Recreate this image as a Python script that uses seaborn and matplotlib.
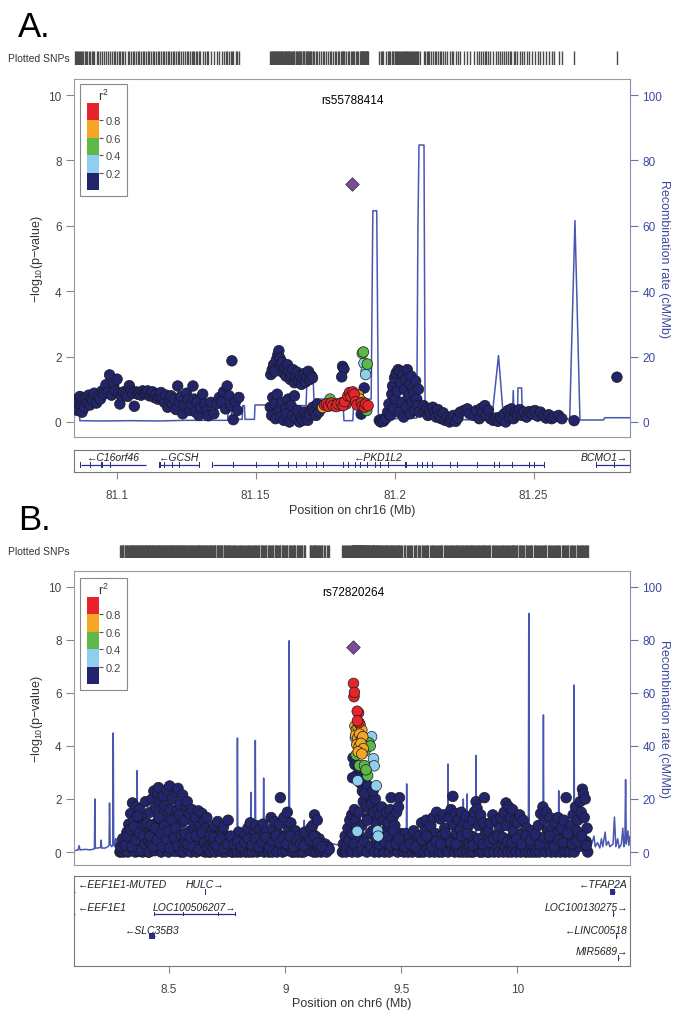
import numpy as np
import pandas as pd
import matplotlib
matplotlib.use("Agg")
import matplotlib.pyplot as plt
import seaborn as sns
from matplotlib.colors import ListedColormap, BoundaryNorm
from matplotlib.cm import ScalarMappable
from matplotlib.patches import Rectangle

sns.set_style("white")
plt.rcParams['font.family'] = ['Liberation Sans', 'DejaVu Sans']
plt.rcParams['mathtext.fontset'] = 'custom'
plt.rcParams['mathtext.rm'] = 'Liberation Sans'
plt.rcParams['mathtext.default'] = 'regular'

# ---------------------------------------------------------------- data: panel A (chr16)
a_navy = [
    (81.0850,0.55),(81.0853,0.42),(81.0857,0.70),(81.0860,0.35),(81.0864,0.62),(81.0868,0.78),(81.0872,0.50),
    (81.0876,0.30),(81.0880,0.68),(81.0885,0.45),(81.0890,0.75),(81.0895,0.60),(81.0900,0.82),(81.0905,0.52),
    (81.0910,0.72),(81.0915,0.65),(81.0920,0.88),(81.0928,0.58),(81.0935,0.78),(81.0942,0.70),
    (81.0948,0.95),(81.0955,0.85),(81.0962,1.14),(81.0968,0.90),(81.0975,1.44),(81.0982,0.82),(81.0990,1.14),
    (81.0996,0.95),(81.1002,1.31),(81.1008,0.88),(81.1012,0.55),(81.1018,0.80),(81.1025,0.92),(81.1032,0.85),
    (81.1040,0.78),(81.1046,1.11),(81.1052,0.95),(81.1058,0.88),(81.1064,0.48),(81.1070,0.92),(81.1076,0.85),
    (81.1082,0.90),(81.1088,0.82),(81.1094,0.95),(81.1100,0.87),(81.1106,0.90),(81.1112,0.95),(81.1118,0.80),
    (81.1124,0.88),(81.1130,0.92),(81.1136,0.75),(81.1142,0.85),(81.1148,0.70),(81.1154,0.78),(81.1160,0.90),
    (81.1166,0.72),(81.1172,0.60),(81.1178,0.82),(81.1184,0.45),(81.1190,0.65),(81.1196,0.80),(81.1202,0.55),
    (81.1208,0.70),(81.1214,0.38),(81.1220,1.10),(81.1226,0.62),
    (81.1232,0.78),(81.1238,0.25),(81.1245,0.50),(81.1252,0.88),(81.1258,0.68),(81.1265,0.35),
    (81.1270,0.55),(81.1275,1.10),(81.1280,0.70),(81.1285,0.30),(81.1290,0.62),(81.1296,0.20),(81.1302,0.45),
    (81.1310,0.85),(81.1318,0.55),(81.1325,0.35),(81.1330,0.19),(81.1340,0.60),(81.1350,0.25),
    (81.1360,0.55),(81.1370,0.75),(81.1378,0.62),(81.1385,0.92),(81.1392,0.40),(81.1398,1.10),(81.1405,0.80),
    (81.1412,0.50),(81.1415,1.87),(81.1420,0.07),(81.1428,0.62),(81.1435,0.35),(81.1440,0.75),
    (81.1555,1.45),(81.1560,1.60),(81.1565,1.75),(81.1570,1.55),(81.1575,1.90),(81.1580,2.05),(81.1584,2.18),
    (81.1588,1.95),(81.1592,1.70),(81.1596,1.82),(81.1600,1.50),(81.1605,1.65),(81.1610,1.40),(81.1615,1.75),
    (81.1620,1.55),(81.1625,1.30),(81.1630,1.45),(81.1635,1.60),(81.1640,1.20),(81.1645,1.38),(81.1650,1.52),
    (81.1655,1.25),(81.1660,1.42),(81.1665,1.15),(81.1670,1.35),(81.1675,1.48),(81.1680,1.22),(81.1685,1.38),
    (81.1690,1.55),(81.1695,1.30),(81.1700,1.42),(81.1705,1.35),
    (81.1553,0.45),(81.1558,0.20),(81.1562,0.75),(81.1568,0.55),(81.1572,0.10),(81.1578,0.85),(81.1585,0.35),
    (81.1590,0.15),(81.1595,0.60),(81.1602,0.05),(81.1608,0.40),(81.1612,0.25),(81.1618,0.70),(81.1622,0.00),
    (81.1628,0.50),(81.1634,0.20),(81.1640,0.80),(81.1646,0.10),(81.1652,0.35),(81.1658,0.00),(81.1664,0.15),
    (81.1670,0.05),(81.1676,0.30),(81.1682,0.18),(81.1688,0.05),(81.1694,0.22),(81.1700,0.38),(81.1706,0.45),
    (81.1712,0.30),(81.1718,0.20),
    (81.1813,1.70),(81.1818,1.62),(81.1810,1.38),(81.1891,1.04),(81.1880,0.24),(81.1735,0.40),(81.1728,0.30),
    (81.1722,0.55),
    (81.1945,0.05),(81.1950,0.00),(81.1955,0.08),(81.1960,0.02),(81.1968,0.10),(81.1975,0.30),(81.1980,0.55),
    (81.1985,0.20),(81.1990,0.85),(81.1993,1.10),(81.1996,0.40),(81.2000,1.35),(81.2003,0.70),(81.2006,1.50),
    (81.2010,0.95),(81.2013,1.60),(81.2016,0.30),(81.2020,1.55),(81.2023,1.20),(81.2026,0.60),(81.2030,1.45),
    (81.2033,0.15),(81.2036,1.00),(81.2040,1.30),(81.2043,0.45),(81.2046,1.60),(81.2050,0.80),(81.2053,1.15),
    (81.2056,0.25),(81.2060,1.40),(81.2063,0.60),(81.2066,1.05),(81.2070,0.90),(81.2073,0.35),(81.2076,1.25),
    (81.2080,0.70),(81.2083,0.50),(81.2086,1.00),(81.2090,0.30),
    (81.2105,0.50),(81.2110,0.30),(81.2115,0.42),(81.2120,0.20),(81.2125,0.35),(81.2130,0.25),(81.2138,0.45),
    (81.2145,0.30),(81.2150,0.15),(81.2156,0.38),(81.2162,0.20),(81.2168,0.10),(81.2175,0.28),(81.2182,0.05),
    (81.2190,0.15),(81.2198,0.00),(81.2205,0.10),(81.2212,0.20),(81.2220,0.02),(81.2228,0.12),(81.2236,0.30),
    (81.2250,0.35),(81.2262,0.40),(81.2270,0.25),(81.2285,0.20),(81.2295,0.35),(81.2305,0.10),(81.2312,0.42),
    (81.2318,0.30),(81.2325,0.50),(81.2330,0.20),(81.2338,0.35),(81.2345,0.10),(81.2355,0.05),(81.2365,0.12),
    (81.2372,0.02),(81.2380,0.15),(81.2388,0.08),(81.2395,0.25),(81.2400,0.00),(81.2408,0.35),(81.2414,0.15),
    (81.2420,0.40),(81.2428,0.10),(81.2435,0.30),(81.2442,0.22),(81.2450,0.38),(81.2458,0.20),(81.2466,0.30),
    (81.2475,0.15),(81.2485,0.32),(81.2495,0.25),(81.2505,0.35),(81.2515,0.18),(81.2525,0.30),(81.2535,0.20),
    (81.2545,0.12),(81.2555,0.22),(81.2565,0.10),(81.2575,0.15),(81.2590,0.20),(81.2602,0.10),(81.2646,0.04),
    (81.2800,1.37),
]
a_ld = [  # (position, -log10 p, r2)
    (81.1742,0.44,0.70),(81.1748,0.52,0.90),(81.1755,0.55,0.90),(81.1762,0.48,0.90),(81.1768,0.70,0.50),
    (81.1772,0.58,0.90),(81.1778,0.50,0.90),(81.1785,0.52,0.85),(81.1790,0.47,0.90),(81.1796,0.55,0.90),
    (81.1802,0.50,0.85),(81.1808,0.58,0.90),(81.1815,0.50,0.90),(81.1820,0.62,0.90),(81.1826,0.55,0.85),
    (81.1832,0.80,0.90),(81.1838,0.90,0.90),(81.1843,0.78,0.90),(81.1850,0.92,0.90),(81.1855,0.85,0.90),
    (81.1860,0.62,0.90),(81.1865,0.52,0.90),(81.1870,0.82,0.70),(81.1875,0.70,0.70),(81.1880,0.58,0.90),
    (81.1884,0.48,0.90),(81.1888,0.60,0.70),(81.1892,0.45,0.90),(81.1896,0.55,0.90),(81.1900,0.35,0.50),
    (81.1905,0.50,0.90),
    (81.1884,2.10,0.50),(81.1888,2.14,0.50),(81.1902,1.77,0.50),(81.1890,1.80,0.30),(81.1898,1.57,0.30),
    (81.1896,1.45,0.30),
]
a_lead_pos, a_lead_logp, a_lead_name = 81.1847, 7.28, "rs55788414"
a_recomb = [
    (81.0847,4.5),(81.0866,4.5),(81.0868,0.4),(81.0950,0.3),(81.1050,0.4),(81.1150,0.3),(81.1250,0.5),
    (81.1400,0.5),(81.1402,5.0),(81.1412,5.0),(81.1414,0.8),(81.1452,0.8),(81.1454,5.0),(81.1460,5.0),
    (81.1462,0.8),(81.1496,0.8),(81.1498,5.2),(81.1544,5.2),(81.1546,4.0),(81.1634,4.0),(81.1636,5.0),
    (81.1682,5.0),(81.1686,16.2),(81.1706,16.2),(81.1710,7.0),(81.1814,7.0),(81.1818,0.4),(81.1850,0.4),
    (81.1854,7.0),(81.1916,7.0),(81.1922,64.6),(81.1936,64.6),(81.1942,0.9),(81.1975,0.9),(81.1980,11.6),
    (81.1986,11.6),(81.1992,1.0),(81.2080,1.2),(81.2084,57.5),(81.2088,84.7),(81.2106,84.7),(81.2110,1.5),
    (81.2200,0.8),(81.2300,0.6),(81.2350,0.9),(81.2374,20.3),(81.2392,1.0),(81.2424,1.0),(81.2427,9.6),
    (81.2430,1.0),(81.2442,1.0),(81.2444,10.4),(81.2457,10.4),(81.2460,0.9),(81.2630,0.9),(81.2649,61.6),
    (81.2667,0.6),(81.2752,0.6),(81.2756,1.3),(81.2847,1.3),
]
a_gene_name = ['C16orf46', 'GCSH', 'PKD1L2', 'BCMO1']
a_gene_start = [81.0871, 81.1156, 81.1346, 81.2725]
a_gene_end = [81.1106, 81.1297, 81.2538, 81.2900]
a_gene_strand = ['-', '-', '-', '+']
a_gene_row = [0, 0, 0, 0]
a_gene_label = ['center', 'center', 'center', 'right']
a_exons = {
    'C16orf46': [81.0871, 81.0905, 81.0948, 81.0955, 81.0977, 81.0998, 81.1106],
    'GCSH': [81.1156, 81.1174, 81.1200, 81.1228, 81.1297],
    'PKD1L2': [81.1346, 81.1422, 81.1473, 81.1502, 81.1552, 81.1581, 81.1617, 81.1646, 81.1682, 81.1718,
               81.1732, 81.1746, 81.1811, 81.1818, 81.1833, 81.1861, 81.1876, 81.1904, 81.1919, 81.1933,
               81.1948, 81.1962, 81.1977, 81.1998, 81.2041, 81.2084, 81.2099, 81.2106, 81.2120, 81.2135,
               81.2149, 81.2178, 81.2200, 81.2228, 81.2250, 81.2286, 81.2300, 81.2322, 81.2358, 81.2379,
               81.2408, 81.2423, 81.2487, 81.2502, 81.2538],
    'BCMO1': [81.2725, 81.2790],
}
a_big_exons = [81.0948, 81.1157, 81.2041]

# ---------------------------------------------------------------- data: panel B (chr6)
b_navy = [
    (8.288,0.0),(8.293,0.02),(8.298,0.1),(8.303,0.0),(8.308,0.35),(8.313,0.05),(8.318,0.75),(8.322,0.0),
    (8.326,1.05),(8.330,0.3),(8.334,1.45),(8.338,0.55),(8.342,1.85),(8.346,0.1),(8.350,1.2),(8.354,0.0),
    (8.358,1.7),(8.362,0.4),(8.366,0.9),(8.370,0.02),(8.374,1.6),(8.378,0.25),(8.382,1.3),(8.386,0.0),
    (8.390,1.0),(8.394,0.5),(8.398,1.9),(8.402,0.15),(8.406,0.7),(8.410,0.0),
    (8.291,0.2),(8.300,0.5),(8.310,0.25),(8.320,0.6),(8.332,0.85),(8.340,0.2),(8.348,0.95),(8.356,0.45),
    (8.364,1.35),(8.372,0.7),(8.380,0.05),(8.388,0.6),(8.396,0.3),(8.404,1.1),(8.412,0.4),
    (8.414,0.0),(8.418,1.5),(8.422,0.3),(8.426,2.0),(8.430,0.8),(8.434,2.3),(8.438,0.05),(8.442,1.7),
    (8.446,1.1),(8.450,2.2),(8.454,2.43),(8.458,0.4),(8.462,1.9),(8.466,0.0),(8.470,1.4),(8.474,2.1),
    (8.478,0.6),(8.482,1.75),(8.486,0.1),(8.490,2.35),(8.494,1.2),(8.498,0.0),(8.502,2.49),(8.506,1.6),
    (8.510,0.35),(8.514,2.0),(8.518,0.9),(8.522,1.3),(8.526,0.02),(8.530,2.25),(8.534,1.55),(8.538,2.4),
    (8.542,0.5),(8.546,1.8),(8.550,0.0),(8.554,1.1),(8.558,2.15),
    (8.416,0.6),(8.424,1.0),(8.432,0.2),(8.440,0.9),(8.448,0.45),(8.456,1.3),(8.464,0.7),(8.472,0.2),
    (8.480,1.0),(8.488,0.5),(8.496,0.8),(8.504,0.15),(8.512,1.2),(8.520,0.55),(8.528,0.9),(8.536,0.25),
    (8.544,1.4),(8.552,0.65),(8.560,0.3),
    (8.562,0.0),(8.566,1.2),(8.570,0.4),(8.574,1.7),(8.578,1.9),(8.582,0.1),(8.586,1.45),(8.590,0.8),
    (8.594,0.0),(8.598,1.6),(8.602,0.5),(8.606,1.1),(8.610,0.2),(8.614,1.3),(8.618,0.0),(8.622,0.85),
    (8.626,1.55),(8.630,0.3),(8.634,1.0),(8.638,0.05),(8.642,1.45),(8.646,0.6),(8.650,1.2),(8.654,0.0),
    (8.658,0.9),(8.662,1.3),(8.666,0.4),(8.670,0.0),
    (8.568,0.7),(8.580,0.3),(8.592,0.55),(8.604,0.2),(8.616,0.6),(8.628,0.1),(8.640,0.75),(8.652,0.35),
    (8.664,0.15),
    (8.674,0.3),(8.679,0.0),(8.684,0.8),(8.689,0.15),(8.694,1.0),(8.699,0.0),(8.704,0.5),(8.709,1.15),
    (8.714,0.05),(8.719,0.7),(8.724,0.2),(8.729,0.0),(8.734,0.95),(8.739,0.4),(8.744,0.0),(8.749,0.6),
    (8.754,1.2),(8.759,0.1),(8.764,0.35),(8.769,0.0),
    (8.682,0.45),(8.697,0.3),(8.712,0.6),(8.727,0.35),(8.742,0.2),(8.757,0.55),
    (8.774,0.2),(8.779,0.0),(8.784,0.55),(8.789,0.1),(8.794,0.0),(8.799,0.75),(8.804,0.3),(8.809,0.0),
    (8.814,0.45),(8.819,0.05),(8.824,0.6),(8.829,0.0),
    (8.834,0.3),(8.839,0.9),(8.844,0.0),(8.849,1.1),(8.854,0.5),(8.859,0.0),(8.864,0.7),(8.869,0.2),
    (8.874,1.0),(8.879,0.0),(8.884,0.4),(8.889,0.85),(8.894,0.05),(8.899,0.6),(8.904,1.05),(8.909,0.0),
    (8.914,0.3),(8.919,0.75),(8.924,0.1),(8.929,0.0),
    (8.934,0.5),(8.939,1.3),(8.944,0.0),(8.949,0.9),(8.954,1.15),(8.959,0.2),(8.964,0.0),(8.969,0.7),
    (8.974,1.05),(8.979,2.05),(8.984,0.3),(8.989,0.0),(8.994,1.3),(8.999,0.6),(9.004,0.05),(9.009,1.5),
    (9.014,0.9),(9.019,0.2),(9.024,1.1),(9.029,0.0),
    (9.034,0.4),(9.039,0.0),(9.044,0.8),(9.049,0.2),(9.054,0.0),(9.059,0.6),(9.064,0.1),(9.069,0.0),
    (9.074,0.35),(9.079,0.0),(9.084,0.75),(9.106,0.05),(9.110,0.9),(9.114,0.3),(9.118,1.0),(9.122,0.0),
    (9.126,1.4),(9.130,0.6),(9.134,0.0),(9.138,1.2),(9.142,0.2),(9.146,0.5),(9.150,0.1),
    (9.154,0.0),(9.160,0.25),(9.166,0.05),(9.172,0.3),(9.178,0.0),(9.184,0.2),(9.190,0.1),
    (8.676,0.6),(8.692,0.55),(8.706,0.25),(8.722,0.5),(8.736,0.15),(8.752,0.3),(8.766,0.6),(8.781,0.3),
    (8.796,0.4),(8.811,0.2),(8.826,0.35),(8.841,0.5),(8.856,0.25),(8.871,0.5),(8.886,0.2),(8.901,0.35),
    (8.916,0.55),(8.931,0.2),(8.946,0.4),(8.961,0.6),(8.976,0.35),(8.991,0.5),(9.006,0.3),(9.021,0.6),
    (9.036,0.2),(9.051,0.45),(9.066,0.3),(9.081,0.25),(9.108,0.45),(9.124,0.6),(9.140,0.35),(9.157,0.2),
    (9.246,0.0),(9.250,0.3),(9.254,0.05),(9.258,0.6),(9.262,0.0),(9.266,0.2),(9.270,0.9),(9.274,0.45),
    (9.278,1.2),(9.282,0.1),(9.286,1.4),(9.289,0.7),
    (9.288,0.0),(9.292,3.55),(9.296,0.3),(9.300,3.3),(9.304,1.2),(9.308,2.9),(9.312,0.0),(9.316,3.2),
    (9.320,0.6),(9.324,2.6),(9.328,0.05),(9.332,2.3),(9.336,1.9),(9.340,0.4),(9.344,2.75),(9.348,1.7),
    (9.352,0.0),(9.356,2.5),(9.360,1.3),(9.364,2.1),(9.368,0.2),(9.372,1.8),(9.376,0.8),(9.380,1.5),
    (9.384,0.0),(9.388,2.0),(9.392,1.1),(9.396,0.3),(9.400,1.6),
    (9.290,2.8),(9.298,1.6),(9.306,0.9),(9.318,1.5),(9.330,1.0),(9.342,2.2),(9.354,1.2),(9.366,0.7),
    (9.378,2.3),(9.390,0.5),
    (9.404,0.0),(9.408,1.4),(9.412,0.5),(9.416,1.7),(9.420,0.2),(9.424,1.2),(9.428,0.0),(9.432,0.8),
    (9.436,1.5),(9.440,0.3),(9.444,1.1),(9.448,0.0),(9.452,1.6),(9.456,2.05),(9.460,0.6),(9.464,1.3),
    (9.468,0.1),(9.472,1.0),(9.476,0.4),(9.480,1.5),(9.484,0.0),(9.488,1.7),(9.492,2.05),(9.496,0.7),
    (9.500,0.2),
    (9.505,0.4),(9.511,0.0),(9.517,0.7),(9.523,0.1),(9.529,0.0),(9.535,0.55),(9.541,0.25),(9.547,0.0),
    (9.553,0.8),(9.559,0.1),(9.565,0.45),(9.571,0.0),(9.577,0.6),
    (9.582,0.0),(9.587,1.1),(9.592,0.3),(9.597,0.0),(9.602,0.8),(9.607,1.2),(9.612,0.1),(9.617,0.5),
    (9.622,0.0),(9.627,1.0),(9.632,0.35),(9.637,1.3),(9.642,0.0),(9.647,0.7),(9.652,1.5),(9.657,0.2),
    (9.662,0.0),(9.667,1.25),(9.672,0.6),(9.677,0.0),(9.682,1.4),(9.687,0.9),(9.692,0.15),(9.697,0.5),
    (9.702,0.0),(9.706,1.3),(9.710,0.5),(9.714,1.6),(9.718,0.2),(9.722,2.1),(9.726,1.0),(9.730,0.0),
    (9.734,1.45),(9.738,0.7),(9.742,0.1),(9.746,1.2),(9.750,0.0),(9.754,0.85),(9.758,1.5),(9.762,0.3),
    (9.766,0.0),(9.770,1.1),(9.774,0.6),(9.778,1.35),(9.782,0.0),(9.786,0.4),(9.790,1.0),(9.794,0.2),
    (9.798,0.0),
    (9.802,0.6),(9.806,1.2),(9.810,0.0),(9.814,1.5),(9.818,0.3),(9.822,1.9),(9.826,1.65),(9.830,0.1),
    (9.834,1.0),(9.838,0.0),(9.842,1.4),(9.846,0.5),(9.850,0.0),(9.854,1.1),(9.858,2.05),(9.862,0.7),
    (9.866,0.2),(9.870,0.0),
    (9.874,0.8),(9.879,0.0),(9.884,1.1),(9.889,0.4),(9.894,1.4),(9.899,0.0),(9.904,0.6),(9.909,1.2),
    (9.914,0.2),(9.919,0.0),(9.924,0.9),(9.929,1.3),(9.934,0.3),(9.939,0.0),
    (9.943,1.5),(9.947,0.2),(9.951,1.85),(9.955,1.0),(9.959,0.0),(9.963,1.7),(9.967,0.5),(9.971,1.3),
    (9.975,0.0),(9.979,1.6),(9.983,0.8),(9.987,0.1),(9.991,1.2),
    (9.995,0.0),(10.000,1.1),(10.005,0.4),(10.010,1.4),(10.015,0.0),(10.020,0.7),(10.025,1.2),(10.030,0.2),
    (10.035,0.0),(10.040,0.9),(10.045,0.5),(10.050,0.0),(10.055,0.3),(10.060,0.8),(10.065,0.0),(10.070,0.45),
    (10.075,0.15),(10.080,0.0),
    (10.085,0.6),(10.090,1.0),(10.095,0.0),(10.100,1.45),(10.105,0.3),(10.110,1.7),(10.115,1.2),(10.120,0.0),
    (10.125,1.5),(10.130,0.8),(10.135,0.2),(10.140,1.3),(10.145,0.0),(10.150,0.9),
    (10.155,0.4),(10.160,1.1),(10.165,0.0),(10.170,0.7),(10.175,1.3),(10.180,0.2),(10.185,0.0),(10.190,0.9),
    (10.195,0.5),(10.200,1.2),(10.205,0.0),(10.210,2.05),(10.215,0.6),(10.220,0.3),
    (10.225,0.0),(10.230,1.0),(10.235,0.5),(10.240,1.4),(10.245,0.0),(10.250,1.7),(10.255,0.8),(10.260,1.2),
    (10.265,0.2),(10.270,1.9),(10.275,1.5),(10.280,2.37),(10.284,2.2),(10.288,1.3),(10.292,2.0),(10.296,0.4),
    (10.300,0.9),(10.303,0.0),
    (9.407,0.3),(9.418,0.7),(9.430,0.35),(9.442,0.6),(9.454,0.25),(9.466,0.8),(9.478,0.3),(9.490,0.5),
    (9.514,0.2),(9.538,0.3),(9.562,0.2),(9.590,0.45),(9.610,0.6),(9.630,0.2),(9.650,0.4),(9.670,0.3),
    (9.690,0.7),(9.712,0.35),(9.736,0.3),(9.760,0.6),(9.784,0.7),(9.808,0.25),(9.832,0.5),(9.852,0.3),
    (9.877,0.35),(9.897,0.5),(9.917,0.6),(9.937,0.55),(9.957,0.4),(9.977,0.35),(9.997,0.5),(10.017,0.3),
    (10.037,0.6),(10.057,0.45),(10.077,0.65),(10.097,0.3),(10.117,0.55),(10.137,0.6),(10.157,0.2),
    (10.177,0.45),(10.197,0.35),(10.217,0.7),(10.237,0.3),(10.257,0.4),(10.277,0.6),(10.297,0.25),
]
b_ld = [  # (position, -log10 p, r2)
    (9.294,6.36,0.90),(9.298,6.02,0.90),(9.296,5.86,0.85),(9.310,5.31,0.90),(9.316,5.25,0.85),
    (9.318,4.88,0.90),(9.311,4.95,0.90),
    (9.300,4.75,0.70),(9.306,4.62,0.70),(9.314,4.70,0.70),(9.322,4.80,0.70),(9.330,4.60,0.70),
    (9.303,4.40,0.70),(9.312,4.30,0.70),(9.320,4.45,0.70),(9.328,4.25,0.70),(9.334,4.35,0.70),
    (9.308,4.05,0.70),(9.318,3.98,0.70),(9.326,4.10,0.70),(9.336,3.90,0.70),(9.314,3.78,0.70),
    (9.330,3.70,0.70),
    (9.340,4.20,0.50),(9.345,4.02,0.50),(9.344,3.82,0.50),(9.305,3.66,0.50),(9.319,3.26,0.50),
    (9.341,3.26,0.50),(9.355,2.88,0.50),(9.360,4.12,0.50),(9.366,4.00,0.50),(9.348,3.10,0.50),
    (9.302,4.31,0.30),(9.372,4.35,0.30),(9.380,3.52,0.30),(9.383,3.25,0.30),(9.312,2.69,0.30),
    (9.392,2.50,0.30),(9.310,0.78,0.30),(9.398,0.80,0.30),(9.400,0.60,0.30),
]
b_lead_pos, b_lead_logp, b_lead_name = 9.292, 7.74, "rs72820264"
b_recomb = [
    (8.090,0.5),(8.108,0.8),(8.112,2.4),(8.116,0.8),(8.140,1.0),(8.160,0.8),(8.178,1.2),(8.180,20.0),
    (8.182,1.5),(8.195,1.5),(8.205,1.8),(8.207,4.5),(8.209,1.5),(8.225,1.5),(8.235,2.0),(8.241,2.5),
    (8.243,18.5),(8.246,3.0),(8.252,2.0),(8.257,2.5),(8.259,44.9),(8.261,3.0),(8.266,2.0),(8.269,5.0),
    (8.271,1.5),(8.276,5.0),(8.278,1.0),(8.300,1.0),(8.330,1.2),(8.360,1.5),(8.362,30.7),(8.364,1.5),
    (8.400,1.2),(8.450,1.0),(8.500,1.3),(8.550,1.0),(8.600,1.2),(8.650,1.0),(8.700,1.2),(8.750,1.0),
    (8.792,1.5),(8.794,43.0),(8.796,1.5),(8.850,1.5),(8.852,22.5),(8.854,1.5),(8.869,1.5),(8.871,42.1),
    (8.873,1.5),(8.905,1.5),(8.907,27.9),(8.909,1.5),(8.960,1.2),(9.015,1.5),(9.017,79.7),(9.019,1.5),
    (9.060,2.0),(9.080,2.5),(9.082,12.0),(9.084,3.0),(9.132,3.0),(9.134,9.0),(9.136,3.0),(9.175,3.5),
    (9.240,2.5),(9.300,2.0),(9.334,2.0),(9.336,17.5),(9.338,2.0),(9.400,1.5),(9.450,1.5),(9.521,1.5),
    (9.523,25.7),(9.525,1.5),(9.600,1.5),(9.699,1.5),(9.701,33.2),(9.703,1.5),(9.765,1.5),(9.767,20.0),
    (9.769,1.5),(9.781,1.5),(9.783,21.9),(9.785,1.5),(9.820,1.5),(9.822,36.4),(9.824,1.5),(9.900,1.5),
    (9.960,1.5),(10.047,1.5),(10.049,90.0),(10.051,1.5),(10.110,1.5),(10.112,51.7),(10.114,1.5),
    (10.176,1.5),(10.178,23.1),(10.180,1.5),(10.242,1.5),(10.244,63.0),(10.246,1.5),(10.300,2.0),
    (10.305,4.0),(10.310,1.5),(10.320,3.0),(10.330,6.0),(10.335,2.0),(10.345,3.5),(10.355,1.5),
    (10.362,5.0),(10.368,2.0),(10.378,7.5),(10.383,2.5),(10.392,4.0),(10.398,2.0),(10.412,3.0),
    (10.418,13.2),(10.424,2.0),(10.432,5.0),(10.438,1.5),(10.448,3.0),(10.454,9.0),(10.459,2.0),
    (10.463,4.0),(10.466,27.3),(10.469,3.0),(10.476,8.0),(10.480,2.5),(10.485,6.0),
]
b_gene_name = ['EEF1E1-MUTED', 'HULC', 'TFAP2A', 'EEF1E1', 'LOC100506207', 'LOC100130275',
               'SLC35B3', 'LINC00518', 'MIR5689']
b_gene_start = [8.0912, 8.6545, 10.397, 8.0912, 8.435, 10.4135, 8.414, 10.4255, 10.4345]
b_gene_end = [8.0935, 8.6560, 10.422, 8.0935, 8.785, 10.4150, 8.440, 10.4285, 10.4355]
b_gene_strand = ['-', '+', '-', '-', '+', '+', '-', '-', '+']
b_gene_row = [0, 0, 0, 1, 1, 1, 2, 2, 3]
b_gene_label = ['left', 'center', 'right', 'left', 'center', 'right', 'center', 'right', 'right']
b_exons = {'LOC100506207': [8.435, 8.560, 8.711, 8.784]}

ld_bins = [0.0, 0.2, 0.4, 0.6, 0.8, 1.0]
ld_colors = ['#22256B', '#8ECFF0', '#5DB847', '#F5A724', '#E6242A']
lead_color = '#7A4D9C'
rec_color = '#4957B0'
axis_blue = '#3F4A9E'
spine_grey = '#9A9A9A'

# ---------------------------------------------------------------- figure
W, H = 688, 1020
fig = plt.figure(figsize=(W / 100, H / 100), dpi=100)


def add_ax(x0, y0, x1, y1):
    return fig.add_axes([x0 / W, 1 - y1 / H, (x1 - x0) / W, (y1 - y0) / H])


def draw_panel(letter, letter_y, rug_box, main_box, gene_box, legend_top, xlim, ylim, xticks, xticklabels,
               xlabel, navy, ld, lead_pos, lead_logp, lead_name, recomb, genes, exons, big_exons,
               row_gene_y, row_label_y, exon_half, gene_xlabel_y, name_y):
    L, R = main_box[0], main_box[2]
    fig.text(18 / W, 1 - letter_y / H, letter, fontsize=25, va='baseline', ha='left', color='black')

    df = pd.DataFrame({'pos': [p for p, _ in navy] + [p for p, _, _ in ld],
                       'logp': [v for _, v in navy] + [v for _, v, _ in ld],
                       'r2': [0.1] * len(navy) + [r for _, _, r in ld]})
    df['bin'] = pd.cut(df['r2'], ld_bins, labels=False, include_lowest=True).astype(int)
    df = df.sort_values('r2', kind='stable')

    # rug of plotted SNPs
    rax = add_ax(*rug_box)
    sns.rugplot(x=list(df['pos']) + [lead_pos], ax=rax, height=1.0, color='#4a4a4a', lw=0.7,
                expand_margins=False)
    rax.set_xlim(xlim)
    rax.set_ylim(0, 1)
    rax.axis('off')
    fig.text(8 / W, 1 - ((rug_box[1] + rug_box[3]) / 2) / H, 'Plotted SNPs', fontsize=7.5,
             va='center', ha='left', color='#333333')

    # main axes
    ax = add_ax(*main_box)
    ax2 = ax.twinx()
    sns.lineplot(x=[p for p, _ in recomb], y=[r for _, r in recomb], ax=ax2, color=rec_color,
                 lw=1.1, sort=False, estimator=None)
    ax2.set_ylim(ylim[0] * 10, ylim[1] * 10)
    ax2.set_yticks([0, 20, 40, 60, 80, 100])
    ax2.tick_params(axis='y', direction='out', length=6, width=0.8, color='#6a72b0',
                    labelcolor=axis_blue, labelsize=8.5, pad=3)
    ax2.set_ylabel('Recombination rate (cM/Mb)', color=axis_blue, fontsize=9, rotation=270)
    ax2.yaxis.set_label_coords(1.072, 0.5)
    for s in ['top', 'bottom', 'left']:
        ax2.spines[s].set_visible(False)
    ax2.spines['right'].set_color('#8a8fb8')
    ax2.spines['right'].set_linewidth(0.8)

    ax.set_zorder(ax2.get_zorder() + 1)
    ax.patch.set_visible(False)
    sns.scatterplot(data=df, x='pos', y='logp', hue='bin', palette=dict(enumerate(ld_colors)),
                    hue_order=[0, 1, 2, 3, 4], s=58, edgecolor='#1a1a1a', linewidth=0.5,
                    legend=False, ax=ax, zorder=3)
    sns.scatterplot(x=[lead_pos], y=[lead_logp], marker='D', s=48, color=lead_color,
                    edgecolor='#333333', linewidth=0.5, ax=ax, zorder=4)
    ax.text(lead_pos, name_y, lead_name, ha='center', va='center', fontsize=8.5, color='black')
    ax.set_xlim(xlim)
    ax.set_ylim(ylim)
    ax2.set_xlim(xlim)
    ax.set_xticks([])
    ax.set_xlabel('')
    ax.set_yticks([0, 2, 4, 6, 8, 10])
    ax.tick_params(axis='y', direction='out', length=6, width=0.8, color='#888888',
                   labelcolor='#444444', labelsize=8.5, pad=3, left=True)
    ax.set_ylabel('\u2212log$_{10}$(p\u2212value)', fontsize=9, color='#333333')
    ax.yaxis.set_label_coords(-0.052, 0.5)
    for s in ['top', 'bottom', 'left']:
        ax.spines[s].set_color(spine_grey)
        ax.spines[s].set_linewidth(0.8)
        ax.spines[s].set_visible(True)
    ax.spines['right'].set_visible(False)

    # r2 legend
    bx0, by0 = 80, legend_top
    fig.patches.append(Rectangle((bx0 / W, 1 - (by0 + 112) / H), 47 / W, 112 / H, transform=fig.transFigure,
                                 fill=False, edgecolor='#888888', lw=0.8, zorder=10))
    cax = add_ax(87, by0 + 19, 98.5, by0 + 106)
    cmap = ListedColormap(ld_colors)
    norm = BoundaryNorm(ld_bins, cmap.N)
    cb = fig.colorbar(ScalarMappable(norm=norm, cmap=cmap), cax=cax, ticks=[0.2, 0.4, 0.6, 0.8])
    cb.outline.set_visible(False)
    cb.minorticks_off()
    cax.minorticks_off()
    cax.tick_params(which='minor', length=0)
    cax.tick_params(which='major', labelsize=8, length=3, width=0.8, color='#555555', labelcolor='#444444', pad=2)
    fig.text(103 / W, 1 - (by0 + 11) / H, 'r$^2$', fontsize=9, ha='center', va='center', color='#333333')

    # gene track
    gax = add_ax(*gene_box)
    gax.set_xlim(xlim)
    gax.set_ylim(0, 1)
    px = (xlim[1] - xlim[0]) / (R - L)
    for name, st, en, strand, row, lab in genes:
        gy = row_gene_y[row]
        gax.hlines(gy, st, en, color='#2B2E86', lw=0.9)
        ex = exons.get(name)
        if ex is None:
            gax.bar([(st + en) / 2], [2 * exon_half * 1.2], width=max(en - st, 1.2 * px),
                    bottom=gy - exon_half * 1.2, color='#2B2E86', lw=0)
        else:
            gax.bar(ex, [2 * exon_half] * len(ex), width=0.9 * px, bottom=gy - exon_half,
                    color='#2B2E86', lw=0)
            big = [b for b in big_exons if st <= b <= en]
            if big:
                gax.bar(big, [2 * exon_half * 1.1] * len(big), width=2.2 * px, bottom=gy - exon_half * 1.1,
                        color='#2B2E86', lw=0)
        text = ('\u2190' + name) if strand == '-' else (name + '\u2192')
        if lab == 'center':
            tx, ha = (st + en) / 2, 'center'
        elif lab == 'left':
            tx, ha = xlim[0] + 4 * px, 'left'
        else:
            tx, ha = xlim[1] - 2 * px, 'right'
        gax.text(tx, row_label_y[row], text, ha=ha, va='center', fontsize=7.5, style='italic', color='#222222')
    gax.set_yticks([])
    gax.set_xticks(xticks)
    gax.set_xticklabels(xticklabels)
    gax.tick_params(axis='x', direction='out', length=5, width=0.8, color='#888888', labelcolor='#444444',
                    labelsize=8.5, pad=7, bottom=True)
    for s in gax.spines.values():
        s.set_color('#777777')
        s.set_linewidth(0.8)
        s.set_visible(True)
    gax.set_xlabel(xlabel, fontsize=9, color='#333333')
    gax.xaxis.set_label_coords(0.5, gene_xlabel_y)


a_genes = list(zip(a_gene_name, a_gene_start, a_gene_end, a_gene_strand, a_gene_row, a_gene_label))
b_genes = list(zip(b_gene_name, b_gene_start, b_gene_end, b_gene_strand, b_gene_row, b_gene_label))

draw_panel('A.', 37, (74, 52, 630, 66), (74, 80, 630, 438), (74, 451, 630, 473), 85,
           (81.0847, 81.2847), (-0.46, 10.49), [81.10, 81.15, 81.20, 81.25],
           ['81.1', '81.15', '81.2', '81.25'], 'Position on chr16 (Mb)',
           a_navy, a_ld, a_lead_pos, a_lead_logp, a_lead_name, a_recomb, a_genes, a_exons, a_big_exons,
           [0.32], [0.70], 0.14, -1.45, 9.85)

draw_panel('B.', 530, (74, 546, 630, 559), (74, 572, 630, 866), (74, 877, 630, 967), 579,
           (8.090, 10.485), (-0.49, 10.6), [8.5, 9.0, 9.5, 10.0],
           ['8.5', '9', '9.5', '10'], 'Position on chr6 (Mb)',
           b_navy, b_ld, b_lead_pos, b_lead_logp, b_lead_name, b_recomb, b_genes, b_exons, [],
           [0.822, 0.578, 0.333, 0.089], [0.911, 0.656, 0.40, 0.167], 0.026, -0.34, 9.8)

fig.savefig('out.png', dpi=100)
